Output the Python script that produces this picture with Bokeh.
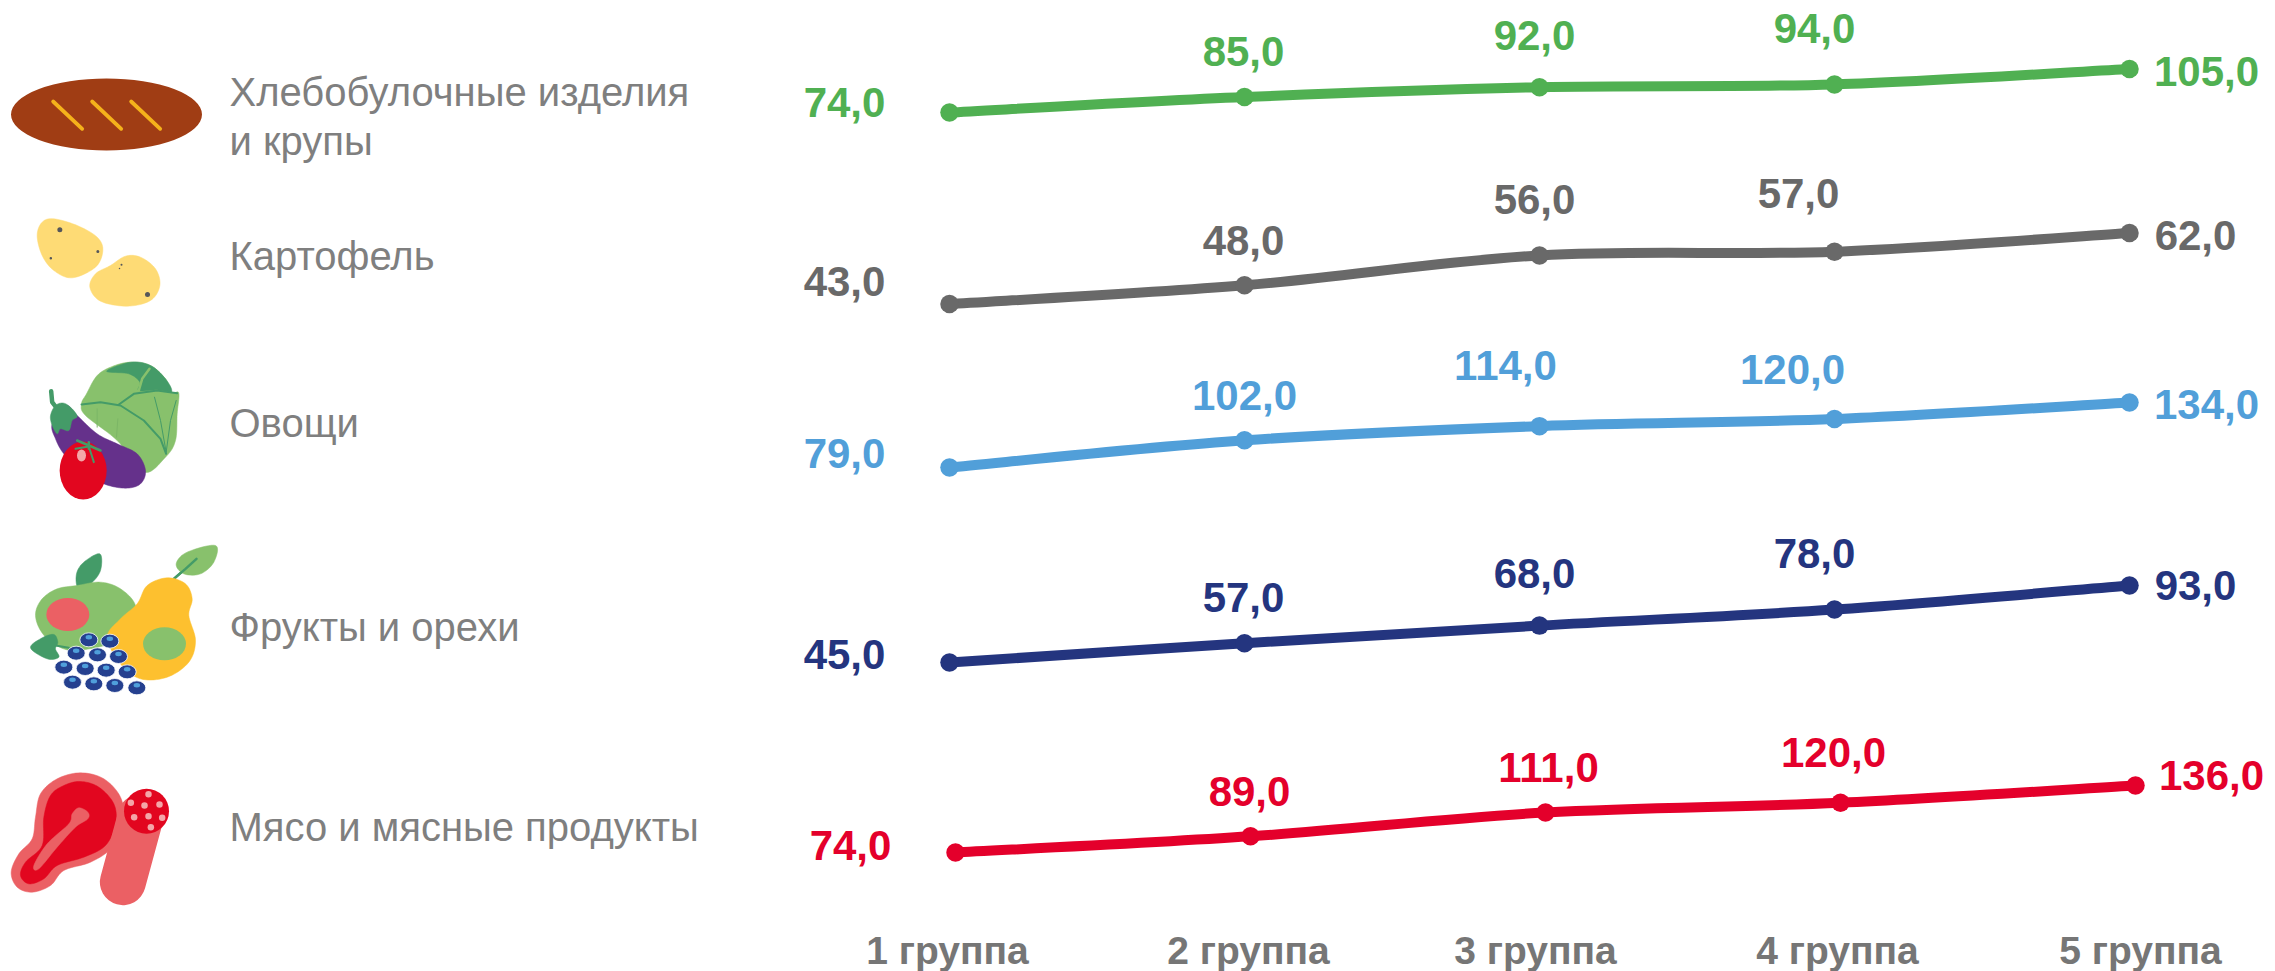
from bokeh.core.properties import value
from bokeh.embed import file_html
from bokeh.models import ColumnDataSource, Range1d
from bokeh.plotting import figure
from bokeh.resources import INLINE

# ---- data -----------------------------------------------------------------
groups = ["1 группа", "2 группа", "3 группа", "4 группа", "5 группа"]
group_no = [1, 2, 3, 4, 5]
bread = [74, 85, 92, 94, 105]
potato = [43, 48, 56, 57, 62]
vegetables = [79, 102, 114, 120, 134]
fruit = [45, 57, 68, 78, 93]
meat = [74, 89, 111, 120, 136]
legend_labels = ["Хлебобулочные изделия", "и крупы", "Картофель", "Овощи", "Фрукты и орехи", "Мясо и мясные продукты"]

# ---- styling / layout (page pixels of the full 2275x971 shot) --------------
W, H = 2275, 971
FONT = "Liberation Sans"
C_GREEN, C_GREY, C_BLUE, C_NAVY, C_RED = "#50B052", "#696969", "#519FD9", "#24357F", "#E4002B"
C_TEXT = "#7F7F7F"
C_AXIS = "#767676"
series_style = [
    # values, colour, (low page y, high page y), x shift, label offsets
    (bread, C_GREEN, (112, 68.5), 0, [(-105, -10), (-1, -46), (-5, -52), (-20, -56), (77, 2)]),
    (potato, C_GREY, (303.5, 232.5), 0, [(-105, -23), (-1, -45), (-5, -56), (-36, -58), (66, 2)]),
    (vegetables, C_BLUE, (467, 402), 0, [(-105, -14), (0, -45), (-34, -61), (-42, -50), (77, 2)]),
    (fruit, C_NAVY, (662, 585), 0, [(-105, -8), (-1, -46), (-5, -52), (-20, -56), (66, 0)]),
    (meat, C_RED, (852, 785), 6, [(-105, -7), (-1, -45), (3, -45), (-7, -50), (76, -10)]),
]
X1, X5 = 949, 2129

p = figure(width=W, height=H, output_backend="svg", toolbar_location=None,
           x_range=Range1d(0, W), y_range=Range1d(H, 0), min_border=0, outline_line_color=None)
p.axis.visible = False
p.grid.visible = False
p.background_fill_color = "white"


# ---- icon helpers ----------------------------------------------------------
def smooth(pts, n=10):
    out = []
    m = len(pts)
    for i in range(m):
        p0, p1, p2, p3 = pts[(i - 1) % m], pts[i], pts[(i + 1) % m], pts[(i + 2) % m]
        for k in range(n):
            t = k / n
            f = lambda a, b, c, d: 0.5 * (2 * b + (c - a) * t + (2 * a - 5 * b + 4 * c - d) * t * t + (3 * b - a - 3 * c + d) * t ** 3)
            out.append((f(p0[0], p1[0], p2[0], p3[0]), f(p0[1], p1[1], p2[1], p3[1])))
    return out


def Z(y0, pts):  # 3x sketch coordinates -> page pixels
    return [(x / 3, y0 + y / 3) for x, y in pts]


def blob(pts, color, sm=True):
    q = smooth(pts) if sm else pts
    p.patch([a for a, _ in q], [b for _, b in q], fill_color=color, line_color=color, line_width=0.5)


def stroke(pts, color, w):
    p.line([a for a, _ in pts], [b for _, b in pts], line_color=color, line_width=w, line_cap="round", line_join="round")


def oval(c, wd, ht, color, line=None, lw=0):
    p.ellipse([c[0]], [c[1]], width=wd, height=ht, fill_color=color, line_color=line, line_width=lw)


BROWN, YEL, POT, LG, DG, PUR, RED2, PINK, PEAR, BER, BERL, DOT = "#A03D14", "#F5B21B", "#FEDB75", "#88C16C", "#449B68", "#65318B", "#E2061F", "#EB6064", "#FDC02F", "#25408F", "#4F9FDB", "#55565A"
DOTPINK = "#F4A6A8"

# bread
y0 = 60
oval(Z(y0, [(318, 162)])[0], 191, 72, BROWN)
for dx in (0, 117, 234):
    stroke(Z(y0, [(158 + dx, 123), (245 + dx, 205)]), YEL, 3.8)
# potatoes
blob(Z(y0, [(110, 525), (125, 485), (160, 475), (230, 495), (290, 530), (307, 570), (285, 620), (215, 652), (160, 630), (125, 585)]), POT)
blob(Z(y0, [(268, 680), (285, 640), (330, 615), (375, 587), (420, 590), (465, 625), (478, 675), (450, 720), (380, 737), (300, 722)]), POT)
for x, y, s in [(178, 508, 5), (292, 573, 3), (151, 593, 2.5), (363, 613, 2), (357, 624, 1.5), (441, 702, 5)]:
    oval(Z(y0, [(x, y)])[0], s, s, DOT)

# vegetables
y0 = 340
blob(Z(y0, [(390, 65), (450, 75), (495, 115), (515, 155), (535, 158), (530, 220), (525, 300), (495, 350), (430, 395), (350, 300), (255, 225), (243, 190), (258, 160), (290, 105), (335, 78)]), LG)
blob(Z(y0, [(318, 92), (390, 65), (450, 75), (495, 115), (513, 153), (470, 148), (415, 150), (418, 125), (385, 100)]), DG)
stroke(Z(y0, [(447, 85), (425, 115), (415, 150)]), LG, 2.5)
stroke(Z(y0, [(243, 192), (300, 185), (360, 195), (430, 240), (480, 295), (497, 340)]), DG, 2)
stroke(Z(y0, [(355, 192), (400, 160), (470, 150), (530, 158)]), DG, 2)
stroke(Z(y0, [(462, 170), (480, 240), (497, 335)]), DG, 1)
stroke(Z(y0, [(527, 180), (510, 240), (497, 335)]), DG, 1)
stroke(Z(y0, [(290, 205), (290, 260)]), "#7CB666", 1)
stroke(Z(y0, [(352, 235), (348, 290)]), "#7CB666", 1)
blob(Z(y0, [(195, 195), (230, 225), (290, 280), (350, 310), (410, 340), (435, 390), (420, 430), (375, 443), (310, 430), (240, 390), (190, 340), (165, 295), (155, 250)]), PUR)
stroke(Z(y0, [(152, 152), (155, 185), (165, 198)]), DG, 4.5)
blob(Z(y0, [(150, 225), (165, 195), (190, 188), (215, 205), (230, 228), (215, 240), (205, 270), (180, 265), (170, 280), (155, 255)]), DG)
oval(Z(y0, [(248, 390)])[0], 47, 58, RED2)
stroke(Z(y0, [(230, 300), (265, 315), (300, 330)]), DG, 2.5)
stroke(Z(y0, [(265, 305), (265, 325)]), DG, 2.5)
stroke(Z(y0, [(225, 325), (265, 318), (280, 365)]), DG, 2)
oval(Z(y0, [(243, 345)])[0], 9, 12, DOTPINK)

# fruit
y0 = 530
blob(Z(y0, [(298, 70), (300, 120), (270, 160), (233, 172), (228, 130), (250, 95)]), DG)
blob(Z(y0, [(105, 250), (125, 205), (170, 175), (230, 165), (300, 155), (360, 175), (405, 225), (400, 300), (330, 340), (220, 360), (160, 340), (120, 300)]), LG)
oval(Z(y0, [(202, 252)])[0], 43, 33, PINK)
stroke(Z(y0, [(520, 145), (588, 85)]), DG, 2.5)
blob(Z(y0, [(645, 45), (640, 95), (600, 130), (550, 130), (527, 100), (560, 65)]), LG)
stroke(Z(y0, [(520, 145), (555, 115), (588, 85)]), DG, 2.5)
blob(Z(y0, [(500, 142), (555, 160), (575, 205), (565, 255), (585, 330), (565, 395), (500, 440), (420, 445), (360, 400), (320, 320), (360, 265), (410, 220), (440, 165)]), PEAR)
oval(Z(y0, [(492, 340)])[0], 43, 33, LG)
stroke(Z(y0, [(165, 345), (205, 352)]), DG, 2)
blob(Z(y0, [(90, 352), (125, 322), (160, 312), (172, 335), (165, 355), (175, 380), (140, 385)]), DG)
for c in [(265, 328), (328, 332), (227, 368), (291, 373), (354, 378), (190, 410), (254, 414), (317, 419), (380, 424), (216, 455), (280, 460), (343, 465), (409, 472)]:
    cc = Z(y0, [c])[0]
    oval(cc, 18, 14, BER, "white", 0.8)
    oval((cc[0], cc[1] - 2.5), 6.5, 4.5, BERL)

# meat + salami
y0 = 750
blob(Z(y0, [(240, 67), (310, 85), (360, 140), (368, 210), (335, 290), (270, 335), (190, 360), (150, 405), (95, 425), (50, 410), (32, 365), (55, 310), (95, 265), (105, 200), (120, 130), (170, 85)]), PINK)
blob(Z(y0, [(240, 93), (295, 110), (340, 160), (345, 220), (315, 285), (250, 320), (170, 345), (130, 385), (85, 400), (60, 375), (75, 335), (125, 285), (130, 200), (150, 135), (190, 105)]), RED2)
blob(Z(y0, [(215, 190), (235, 172), (262, 185), (262, 205), (225, 230), (170, 290), (115, 355), (100, 345), (140, 280), (205, 220)]), PINK)
stroke(Z(y0, [(420, 200), (367, 395)]), PINK, 46)
oval(Z(y0, [(438, 182)])[0], 45, 45, RED2)
for c in [(444, 131), (391, 157), (432, 165), (477, 162), (401, 200), (444, 197), (485, 202), (451, 230)]:
    oval(Z(y0, [c])[0], 6.5, 6.5, DOTPINK)

# ---- legend texts ----------------------------------------------------------
legend_y = [91, 140, 255, 422, 626, 826]
p.text([229] * 6, legend_y, text=legend_labels, text_font=value(FONT),
       text_font_size="40px", text_color=C_TEXT, text_align="left", text_baseline="middle")

# ---- series: each has its own value scale ----------------------------------
gx = (X5 - X1) / (group_no[-1] - group_no[0])
for idx, (vals, color, (y_lo, y_hi), shift, offs) in enumerate(series_style):
    xname, yname = f"x{idx}", f"y{idx}"
    p.extra_x_ranges[xname] = Range1d(group_no[0] + (0 - (X1 + shift)) / gx, group_no[0] + (W - (X1 + shift)) / gx)
    k = (min(vals) - max(vals)) / (y_lo - y_hi)  # value units per pixel going down
    lo = min(vals)
    p.extra_y_ranges[yname] = Range1d(lo + k * (H - y_lo), lo + k * (0 - y_lo))
    xs, ys = group_no, vals
    n = len(xs)
    segs = dict(x0=[], y0=[], x1=[], y1=[], cx0=[], cy0=[], cx1=[], cy1=[])
    for i in range(n - 1):
        a, b = max(i - 1, 0), min(i + 2, n - 1)
        segs["x0"].append(xs[i]); segs["y0"].append(ys[i])
        segs["x1"].append(xs[i + 1]); segs["y1"].append(ys[i + 1])
        segs["cx0"].append(xs[i] + (xs[i + 1] - xs[a]) / 6); segs["cy0"].append(ys[i] + (ys[i + 1] - ys[a]) / 6)
        segs["cx1"].append(xs[i + 1] - (xs[b] - xs[i]) / 6); segs["cy1"].append(ys[i + 1] - (ys[b] - ys[i]) / 6)
    p.bezier("x0", "y0", "x1", "y1", "cx0", "cy0", "cx1", "cy1", source=ColumnDataSource(segs),
             line_color=color, line_width=10, line_cap="round", x_range_name=xname, y_range_name=yname)
    p.scatter(xs, ys, size=18.5, fill_color=color, line_color=None, x_range_name=xname, y_range_name=yname)
    src = ColumnDataSource(dict(x=xs, y=ys, t=[f"{v:.1f}".replace(".", ",") for v in vals],
                                dx=[o[0] for o in offs], dy=[o[1] for o in offs]))
    p.text("x", "y", text="t", source=src, x_offset="dx", y_offset="dy", text_font=value(FONT),
           text_font_style="bold", text_font_size="42px", text_color=color, text_align="center",
           text_baseline="middle", x_range_name=xname, y_range_name=yname)

# ---- group labels ----------------------------------------------------------
src = ColumnDataSource(dict(x=group_no, y=[950] * 5, t=groups, dx=[-2, 4, -4, 3, 11]))
p.text("x", "y", text="t", source=src, x_offset="dx", text_font=value(FONT), text_font_style="bold",
       text_font_size="39px", text_color=C_AXIS, text_align="center", text_baseline="middle", x_range_name="x0")

open("out.html", "w").write(file_html(p, INLINE))
